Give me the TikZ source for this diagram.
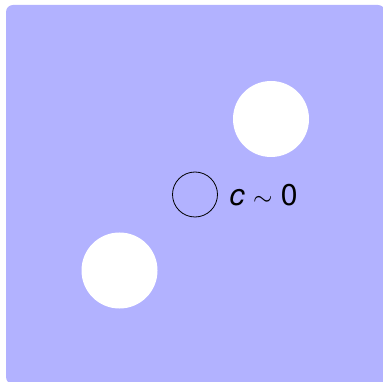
\documentclass[tikz,border=0pt]{standalone}
\usepackage{fontspec}
\setmainfont{TeX Gyre Heros}
\begin{document}
\begin{tikzpicture}[x=1pt,y=-1pt,
  hole/.style={circle,fill=white,draw=none,minimum size=76pt,inner sep=0pt},
  ring/.style={circle,draw=black,line width=0.8pt,minimum size=45pt,inner sep=0pt}]
\useasboundingbox (0,0) rectangle (383,382);
\fill[blue!30,rounded corners=7pt] (6,5) rectangle (385,384);
\node[hole] (h1) at (271,119) {};
\node[hole] (h2) at (119.5,270.5) {};
\node[ring] (r) at (195,194.5) {};
\node[anchor=base west,inner sep=0pt,font=\fontsize{30}{36}\selectfont] (lab) at (229.5,205.5) {\textit{c} $\sim$ 0};
\end{tikzpicture}
\end{document}
